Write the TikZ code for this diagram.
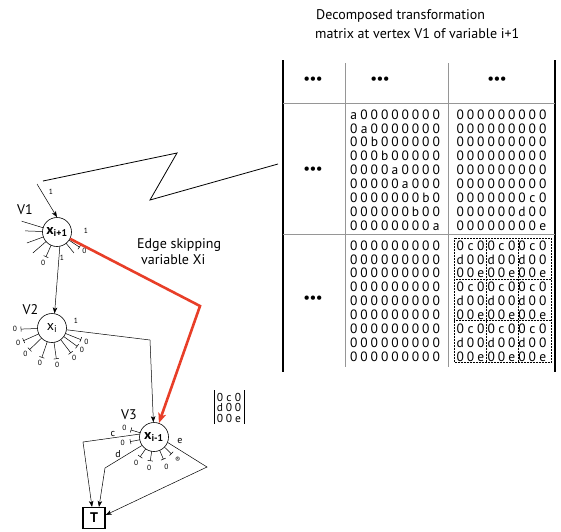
\documentclass[tikz,border=0pt]{standalone}
\usepackage{fontspec}
\setmainfont{PT Sans}
\usetikzlibrary{calc,arrows.meta}
\definecolor{skipred}{RGB}{232,62,40}
\definecolor{rulegray}{RGB}{150,150,150}

% nine (or three) characters set on a fixed pitch
\makeatletter
\newcommand\spaced[2][10.3pt]{\@tfor\mc:=#2\do{\makebox[#1]{\mc}}}
\makeatother

% plain spoke leaving a vertex
\newcommand\vspoke[3]{\draw[edge] ($(#1)+(#2:14.5)$) -- ($(#1)+(#2:#3)$);}
% spoke closed by a bar, with its label
\newcommand\vbarspoke[5]{%
  \draw[edge] ($(#1)+(#2:14.5)$) -- ($(#1)+(#2:#3)$);
  \draw[edge] ($(#1)+(#2:#3)+(#2+90:2.6)$) -- ($(#1)+(#2:#3)+(#2-90:2.6)$);
  \node[tiny] at ($(#1)+(#2:#5)$) {#4};}

\begin{document}
\begin{tikzpicture}[x=1pt,y=-1pt,
  vert/.style={circle,draw,line width=0.6pt,minimum size=29pt,inner sep=0pt,
    font=\fontsize{14}{14}\selectfont},
  tbox/.style={draw,line width=1.2pt,minimum width=22pt,minimum height=21pt,
    inner sep=0pt,font=\fontsize{14}{14}\selectfont\bfseries},
  edge/.style={line width=0.5pt},
  arr/.style={edge,-{Stealth[length=6pt,width=4.5pt,inset=1.5pt]}},
  redge/.style={line width=2.6pt,skipred,-{Stealth[length=10pt,width=8pt,inset=2.5pt]}},
  tiny/.style={inner sep=0pt,font=\fontsize{7.5}{7.5}\selectfont},
  elab/.style={inner sep=0pt,font=\fontsize{10}{10}\selectfont},
  vlab/.style={inner sep=0pt,font=\fontsize{14}{14}\selectfont},
  txt/.style={inner sep=0pt,font=\fontsize{14}{14}\selectfont},
  mblock/.style={inner sep=0pt,align=left,font=\fontsize{13.5}{13.9}\selectfont},
  srow/.style={inner sep=0pt,anchor=base,font=\fontsize{11.5}{11.5}\selectfont},
  dots/.style={inner sep=0pt,font=\fontsize{14}{14}\selectfont\bfseries},
  thickrule/.style={line width=2.6pt},
  thinrule/.style={line width=0.7pt,rulegray},
  dashbox/.style={line width=0.5pt,densely dotted}]
\useasboundingbox (0,0) rectangle (561,531);

% ---------- caption ----------
\node[txt,anchor=base west] (cap1) at (316,19.5) {Decomposed transformation};
\node[txt,anchor=base west] (cap2) at (315,38.5) {matrix at vertex V1 of variable i+1};

% ---------- block matrix ----------
\draw[thickrule] (283,60) -- (283,372);
\draw[thickrule] (555,60) -- (555,372);
\draw[thinrule] (283,103) -- (555,103);
\draw[thinrule] (283,234) -- (555,234);
\draw[thinrule] (345,63) -- (345,367);
\draw[thinrule] (448,63) -- (448,367);

\node[dots] (d11) at (313,80) {\textbullet\textbullet\textbullet};
\node[dots] (d12) at (380,80) {\textbullet\textbullet\textbullet};
\node[dots] (d13) at (497,80) {\textbullet\textbullet\textbullet};
\node[dots] (d21) at (313,170) {\textbullet\textbullet\textbullet};
\node[dots] (d31) at (313,299) {\textbullet\textbullet\textbullet};

\node[mblock] (m22) at (395,170) {%
\spaced{a00000000}\\\spaced{0a0000000}\\\spaced{00b000000}\\
\spaced{000b00000}\\\spaced{0000a0000}\\\spaced{00000a000}\\
\spaced{0000000b0}\\\spaced{000000b00}\\\spaced{00000000a}};
\node[mblock] (m23) at (501.5,170) {%
\spaced{000000000}\\\spaced{000000000}\\\spaced{000000000}\\
\spaced{000000000}\\\spaced{000000000}\\\spaced{000000000}\\
\spaced{0000000c0}\\\spaced{000000d00}\\\spaced{00000000e}};
\node[mblock] (m32) at (395,301) {%
\spaced{000000000}\\\spaced{000000000}\\\spaced{000000000}\\
\spaced{000000000}\\\spaced{000000000}\\\spaced{000000000}\\
\spaced{000000000}\\\spaced{000000000}\\\spaced{000000000}};
\node[mblock] (m33) at (501.5,301) {%
\spaced{0c00c00c0}\\\spaced{d00d00d00}\\\spaced{00e00e00e}\\
\spaced{0c00c00c0}\\\spaced{d00d00d00}\\\spaced{00e00e00e}\\
\spaced{0c00c00c0}\\\spaced{d00d00d00}\\\spaced{00e00e00e}};

% dotted sub-blocks of the lower right block
\draw[dashbox] (454,238) rectangle (551,362);
\draw[dashbox] (486,238) -- (486,362);
\draw[dashbox] (518,238) -- (518,362);
\draw[dashbox] (454,279) -- (551,279);
\draw[dashbox] (454,320) -- (551,320);

% ---------- zig-zag pointer ----------
\coordinate (z0) at (43,181);
\coordinate (z1) at (177,153);
\coordinate (z2) at (150,200);
\coordinate (z3) at (278,164);
\draw[line width=0.8pt] (z0) -- (z1) -- (z2) -- (z3);

% ---------- vertices ----------
\node[vert] (v1) at (57,232) {\bfseries x\textsubscript{i+1}};
\node[vert] (v2) at (52,328) {x\textsubscript{i}};
\node[vert] (v3) at (154,437) {\bfseries x\textsubscript{i-1}};
\node[tbox] (T) at (94,518) {T};

\node[vlab] (l1) at (25,209.5) {V1};
\node[vlab] (l2) at (30.5,309.5) {V2};
\node[vlab] (l3) at (129,415) {V3};

% ---------- edges of V1 ----------
\coordinate (in1) at (37,184);
\draw[arr] (in1) -- (v1.north);
\node[tiny] (n1) at (51,192) {1};
\vspoke{v1}{197}{37}
\vspoke{v1}{182}{32}
\vspoke{v1}{160}{32}
\vspoke{v1}{139}{32}
\vspoke{v1}{51}{27}
\vbarspoke{v1}{114}{27}{0}{34}
\vbarspoke{v1}{34}{27}{0}{33}
\draw[arr] (v1.281) -- (v2.80);
\node[tiny] (n2) at (62,258) {1};

% the edge that skips variable Xi
\coordinate (rb) at (200,306);
\draw[redge] (v1) -- (rb) -- (v3);
\node[tiny] (n3) at (86,231) {1};
\node[txt,anchor=base west] (sk1) at (137,248) {Edge skipping};
\node[txt,anchor=base west] (sk2) at (141,264) {variable Xi};

% ---------- edges of V2 ----------
\coordinate (b23) at (150,340);
\draw[arr] (v2) -- (b23) -- (v3);
\node[tiny] (n4) at (76,321) {1};
\foreach \a in {178,156,136,109,82,53,36,22}{\vbarspoke{v2}{\a}{31}{0}{37}}

% ---------- edges of V3 ----------
\vbarspoke{v3}{197}{24}{0}{31}
\vbarspoke{v3}{169}{24}{0}{32}
\vbarspoke{v3}{125}{24}{0}{31}
\vbarspoke{v3}{99}{24}{0}{31}
\vbarspoke{v3}{67}{24}{0}{32}
\vbarspoke{v3}{44}{24}{\textregistered}{33}

\coordinate (c0) at ($(v3)+(191:15)$);
\coordinate (cb) at (83,442);
\draw[arr] (c0) -- (cb) -- ($(T.north)+(-2,0)$);
\node[elab] (lc) at (113,434) {c};

\coordinate (d0) at ($(v3)+(145:15)$);
\coordinate (db) at (105,468);
\draw[arr] (d0) -- (db) -- ($(T.north)+(5,0)$);
\node[elab] (ld) at (118,454) {d};

\coordinate (e0) at ($(v3)+(22:15)$);
\coordinate (eb) at (207,467);
\draw[arr] (e0) -- (eb) -- ($(T.east)+(0,-3)$);
\node[elab] (le) at (180,441) {e};

% ---------- the 3x3 block carried by V3 ----------
\draw[line width=0.8pt] (214,390) -- (214,424);
\draw[line width=0.8pt] (244,390) -- (244,424);
\node[srow] (s1) at (229,401) {\spaced[9pt]{0c0}};
\node[srow] (s2) at (229,411.5) {\spaced[9pt]{d00}};
\node[srow] (s3) at (229,422) {\spaced[9pt]{00e}};
\end{tikzpicture}
\end{document}
